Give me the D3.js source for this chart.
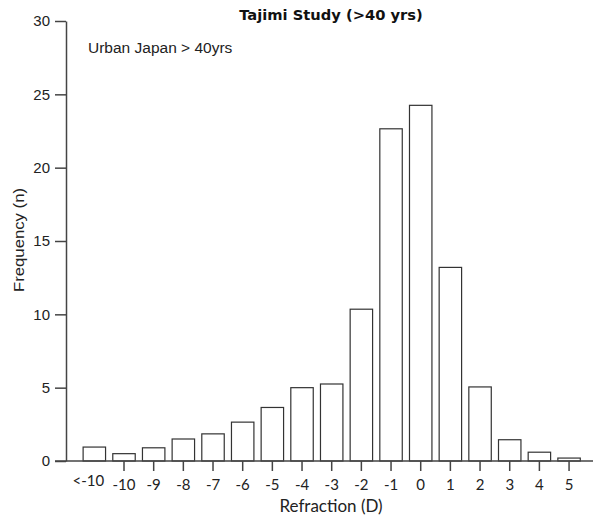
<!DOCTYPE html>
<html>
<head>
<meta charset="utf-8">
<script src="https://d3js.org/d3.v7.min.js"></script>
<style>
  body { margin: 0; background: #fff; }
</style>
</head>
<body>
<div id="chart"></div>
<script>
let categories = ["<-10", "-10", "-9", "-8", "-7", "-6", "-5", "-4", "-3", "-2", "-1", "0", "1", "2", "3", "4", "5"];
let frequency  = [0.95, 0.5, 0.9, 1.5, 1.85, 2.65, 3.65, 5.0, 5.25, 10.35, 22.65, 24.25, 13.2, 5.05, 1.45, 0.6, 0.2];
let yTicks = [0, 5, 10, 15, 20, 25, 30];

let svgWidth = 595, svgHeight = 518;
let axisX = 66, y0 = 461, yTop = 21;

let svg = d3.select("#chart").append("svg")
    .attr("width", svgWidth)
    .attr("height", svgHeight);

let x = d3.scaleBand()
    .domain(categories)
    .range([79.5, 583.9])
    .paddingInner(0.21)
    .paddingOuter(0.105);

let y = d3.scaleLinear()
    .domain([0, 30])
    .range([y0, yTop]);

// bars
svg.selectAll(".bar")
    .data(categories)
    .enter()
    .append("rect")
    .attr("class", "bar")
    .attr("x", d => x(d) + 0.5)
    .attr("y", (d, i) => y(frequency[i]))
    .attr("width", x.bandwidth() - 1)
    .attr("height", (d, i) => y0 - y(frequency[i]))
    .attr("fill", "#fff")
    .attr("stroke", "#333")
    .attr("stroke-width", 1.2);

// y axis
let yAxis = svg.append("g")
    .attr("transform", "translate(" + axisX + ",0)")
    .call(d3.axisLeft(y).tickValues(yTicks).tickSize(11).tickSizeOuter(0).tickPadding(5));
yAxis.select(".domain").attr("stroke", "#444").attr("stroke-width", 1.5);
yAxis.selectAll(".tick line").attr("stroke", "#444").attr("stroke-width", 1.5);
yAxis.selectAll(".tick text")
    .attr("font-family", "'Liberation Sans', Arial, sans-serif")
    .attr("font-size", "15px")
    .attr("fill", "#222");

// x axis
let xAxis = svg.append("g")
    .attr("transform", "translate(0," + y0 + ")")
    .call(d3.axisBottom(x).tickSize(10).tickSizeOuter(0).tickPadding(8));
xAxis.select(".domain").remove();
xAxis.append("line")
    .attr("x1", 55).attr("x2", 593)
    .attr("y1", 0).attr("y2", 0)
    .attr("stroke", "#444").attr("stroke-width", 1.5);
xAxis.selectAll(".tick line").attr("stroke", "#444").attr("stroke-width", 1.5)
    .attr("display", d => d === "<-10" ? "none" : null);
xAxis.selectAll(".tick text")
    .attr("font-family", "Lato, 'DejaVu Sans', sans-serif")
    .attr("font-size", "15px")
    .attr("fill", "#222")
    .attr("dx", d => d === "<-10" ? -6 : 0)
    .attr("dy", d => d === "<-10" ? "0.45em" : "0.71em");

// titles
svg.append("text")
    .attr("x", 331).attr("y", 20)
    .attr("text-anchor", "middle")
    .attr("font-family", "'DejaVu Sans', sans-serif")
    .attr("font-weight", "bold")
    .attr("font-size", "14.7px")
    .attr("fill", "#111")
    .text("Tajimi Study (>40 yrs)");

svg.append("text")
    .attr("x", 88).attr("y", 53)
    .attr("font-family", "'Liberation Sans', Arial, sans-serif")
    .attr("font-size", "15.5px")
    .attr("fill", "#222")
    .text("Urban Japan > 40yrs");

svg.append("text")
    .attr("x", 331).attr("y", 512)
    .attr("text-anchor", "middle")
    .attr("font-family", "Lato, 'DejaVu Sans', sans-serif")
    .attr("font-size", "17px")
    .attr("fill", "#222")
    .text("Refraction (D)");

svg.append("text")
    .attr("transform", "translate(24,240) rotate(-90)")
    .attr("text-anchor", "middle")
    .attr("font-family", "'Liberation Sans', Arial, sans-serif")
    .attr("font-size", "14.5px")
    .attr("textLength", 104)
    .attr("lengthAdjust", "spacingAndGlyphs")
    .attr("fill", "#222")
    .text("Frequency (n)");
</script>
</body>
</html>
